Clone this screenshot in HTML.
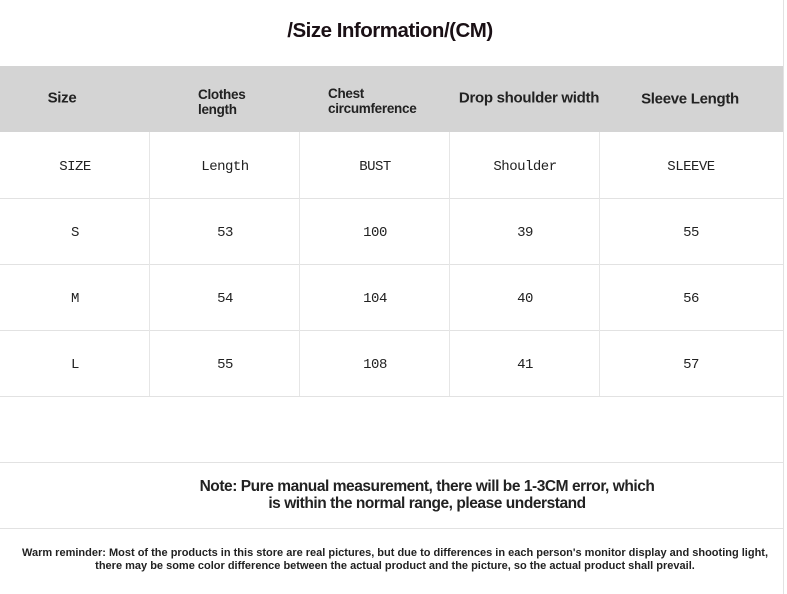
<!DOCTYPE html>
<html><head><meta charset="utf-8"><style>
body{margin:0;width:787px;height:594px;background:#fff;position:relative;overflow:hidden;font-family:"Liberation Sans",sans-serif;}
.a{position:absolute;}
.t{position:absolute;transform:translate(-50%,-50%);white-space:nowrap;}
.h{font-weight:bold;color:#222;font-size:15px;letter-spacing:-0.3px;}
.m{font-family:"Liberation Mono",monospace;font-size:14px;color:#222;letter-spacing:-0.5px;}
.hl{position:absolute;left:0;width:783px;height:1px;background:#e2e2e2;}
.vl{position:absolute;width:1px;background:#e6e6e6;}
</style></head><body>
<div class="a" style="left:783px;top:0;width:1px;height:594px;background:#e2e2e2"></div>
<div class="t" style="left:390px;top:31px;font-weight:bold;font-size:20.5px;color:#1a1015;letter-spacing:-0.5px">/Size Information/(CM)</div>
<div class="a" style="left:0;top:66px;width:783px;height:66px;background:#d4d4d4"></div>
<div class="t h" style="left:62px;top:98px">Size</div>
<div class="a h" style="left:198px;top:87px;font-size:13.5px;line-height:15px">Clothes<br>length</div>
<div class="a h" style="left:328px;top:86px;font-size:13.5px;line-height:15px">Chest<br>circumference</div>
<div class="t h" style="left:529px;top:98px">Drop shoulder width</div>
<div class="t h" style="left:690px;top:99px">Sleeve Length</div>
<div class="hl" style="top:198px"></div><div class="hl" style="top:264px"></div><div class="hl" style="top:330px"></div><div class="hl" style="top:396px"></div><div class="hl" style="top:462px"></div><div class="hl" style="top:528px"></div>
<div class="vl" style="left:149px;top:132px;height:264px"></div>
<div class="vl" style="left:299px;top:132px;height:264px"></div>
<div class="vl" style="left:449px;top:132px;height:264px"></div>
<div class="vl" style="left:599px;top:132px;height:264px"></div>
<div class="t m" style="left:75px;top:167px">SIZE</div><div class="t m" style="left:225px;top:167px">Length</div><div class="t m" style="left:375px;top:167px">BUST</div><div class="t m" style="left:525px;top:167px">Shoulder</div><div class="t m" style="left:691px;top:167px">SLEEVE</div>
<div class="t m" style="left:75px;top:233px">S</div><div class="t m" style="left:225px;top:233px">53</div><div class="t m" style="left:375px;top:233px">100</div><div class="t m" style="left:525px;top:233px">39</div><div class="t m" style="left:691px;top:233px">55</div>
<div class="t m" style="left:75px;top:299px">M</div><div class="t m" style="left:225px;top:299px">54</div><div class="t m" style="left:375px;top:299px">104</div><div class="t m" style="left:525px;top:299px">40</div><div class="t m" style="left:691px;top:299px">56</div>
<div class="t m" style="left:75px;top:365px">L</div><div class="t m" style="left:225px;top:365px">55</div><div class="t m" style="left:375px;top:365px">108</div><div class="t m" style="left:525px;top:365px">41</div><div class="t m" style="left:691px;top:365px">57</div>
<div class="t h" style="left:427px;top:495px;text-align:center;line-height:17px;font-size:15.5px;letter-spacing:-0.45px">Note: Pure manual measurement, there will be 1-3CM error, which<br>is within the normal range, please understand</div>
<div class="t" style="left:395px;top:560px;text-align:center;font-weight:bold;font-size:11px;line-height:13px;color:#222;letter-spacing:0px">Warm reminder: Most of the products in this store are real pictures, but due to differences in each person's monitor display and shooting light,<br>there may be some color difference between the actual product and the picture, so the actual product shall prevail.</div>
</body></html>
